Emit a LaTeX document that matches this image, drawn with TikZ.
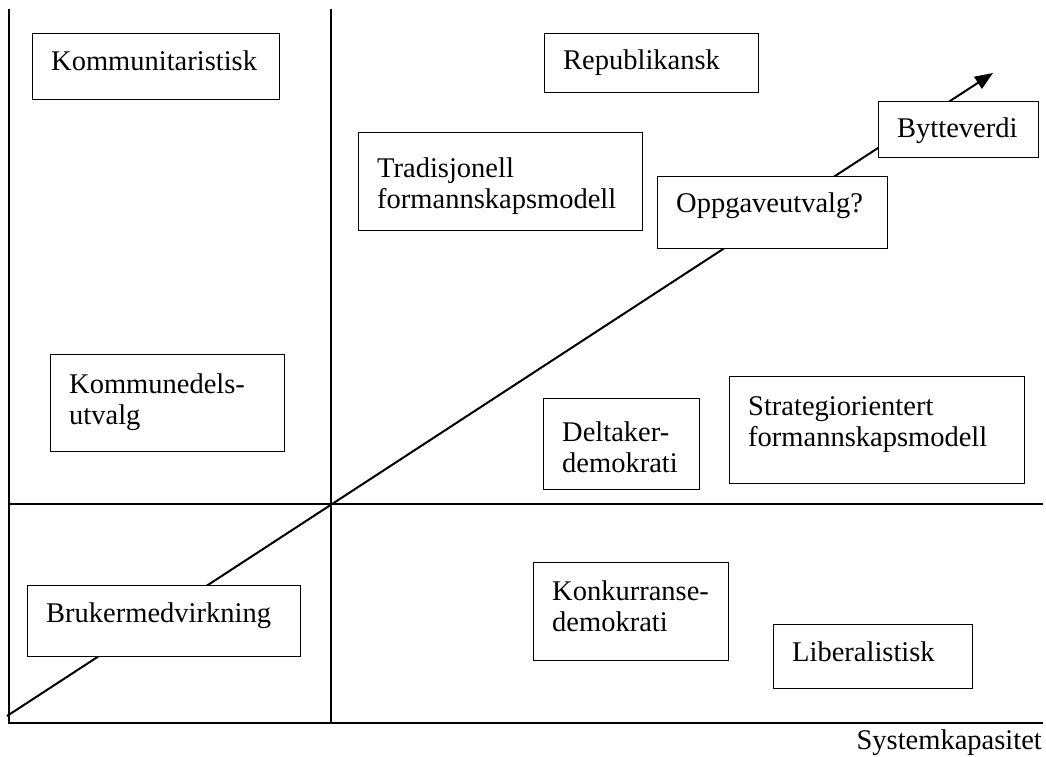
\documentclass[tikz,border=0pt]{standalone}
\usepackage{fontspec}
\setmainfont{Liberation Serif}
\usetikzlibrary{arrows.meta}
\begin{document}
\begin{tikzpicture}[x=1pt,y=-1pt,
  axis/.style={line width=2.2pt},
  trend/.style={line width=2pt,-{Triangle[length=18pt,width=14pt]}},
  box/.style={draw, line width=1.4pt, fill=white, anchor=north west, inner sep=0pt},
  lbl/.style={anchor=base west, inner sep=0pt, align=left, text width=300pt},
  font=\fontsize{28.5}{31}\selectfont]
\useasboundingbox (0,0) rectangle (1046,756);

% frame of the four quadrants
\coordinate (lt) at (9,9);
\coordinate (lb) at (9,723);
\coordinate (mt) at (331,9);
\coordinate (mb) at (331,723);
\coordinate (hl) at (9,504);
\coordinate (hr) at (1043,504);
\coordinate (br) at (1043,723);
\draw[axis] (lt) -- (lb) -- (br);
\draw[axis] (mt) -- (mb);
\draw[axis] (hl) -- (hr);

% diagonal trend arrow
\coordinate (ts) at (7,716);
\coordinate (te) at (993,73);
\draw[trend] (ts) -- (te);

% axis caption
\node[anchor=base east, inner sep=0pt] (cap) at (1042,749) {Systemkapasitet};

% boxes
\node[box, minimum width=247pt, minimum height=66pt] (kom) at (32,33) {};
\node[lbl] (komT) at (51,70) {Kommunitaristisk};

\node[box, minimum width=214pt, minimum height=59pt] (rep) at (544,33) {};
\node[lbl] (repT) at (563,69) {Republikansk};

\node[box, minimum width=160pt, minimum height=56pt] (byt) at (878,101) {};
\node[lbl] (bytT) at (897,137) {Bytteverdi};

\node[box, minimum width=230pt, minimum height=72pt] (opp) at (657,176) {};
\node[lbl] (oppT) at (676,212) {Oppgaveutvalg?};

\node[box, minimum width=284pt, minimum height=98pt] (tra) at (358,132) {};
\node[lbl] (traT) at (377,177) {Tradisjonell\\formannskapsmodell};

\node[box, minimum width=234pt, minimum height=97pt] (kdu) at (50,354) {};
\node[lbl] (kduT) at (69,393) {Kommunedels-\\utvalg};

\node[box, minimum width=156pt, minimum height=91pt] (del) at (543,398) {};
\node[lbl] (delT) at (562,441) {Deltaker-\\demokrati};

\node[box, minimum width=295pt, minimum height=107pt] (str) at (729,376) {};
\node[lbl] (strT) at (748,415) {Strategiorientert\\formannskapsmodell};

\node[box, minimum width=195pt, minimum height=98pt] (kon) at (533,562) {};
\node[lbl] (konT) at (552,600) {Konkurranse-\\demokrati};

\node[box, minimum width=199pt, minimum height=64pt] (lib) at (773,624) {};
\node[lbl] (libT) at (792,661) {Liberalistisk};

\node[box, minimum width=273pt, minimum height=71pt] (bru) at (27,585) {};
\node[lbl] (bruT) at (46,622) {Brukermedvirkning};
\end{tikzpicture}
\end{document}
